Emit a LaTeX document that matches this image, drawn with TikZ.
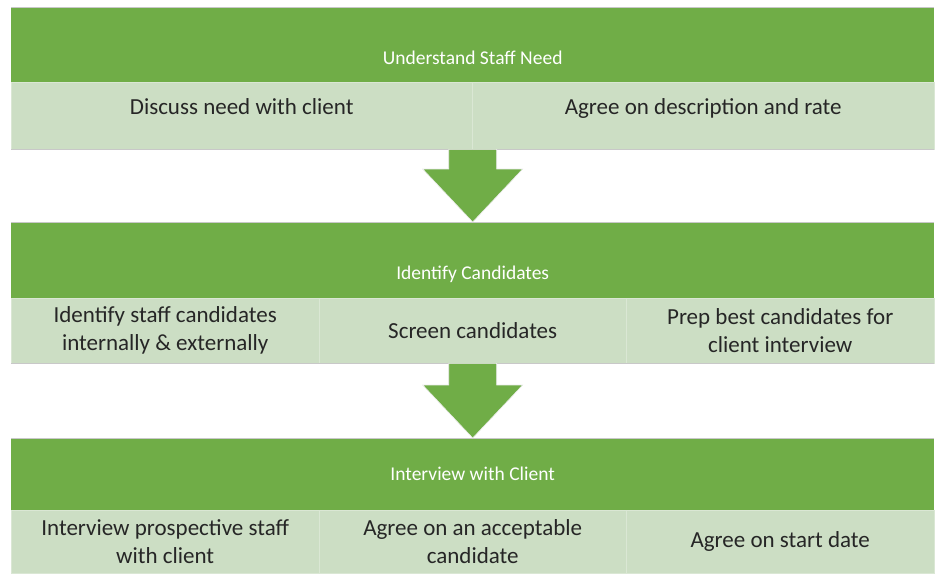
\documentclass[tikz,border=0pt]{standalone}
\usepackage{fontspec}
\setmainfont{Carlito}
\usetikzlibrary{calc}
\definecolor{hdrgreen}{RGB}{112,173,71}
\definecolor{cellgreen}{RGB}{204,222,196}
\definecolor{cellline}{RGB}{218,231,212}
\definecolor{rulegray}{RGB}{200,200,200}

\begin{document}
\begin{tikzpicture}[x=1pt,y=-1pt,
    hdr/.style={rectangle,fill=hdrgreen,text=white,font=\fontsize{19.5}{23}\selectfont,
      minimum width=923pt,minimum height=#1,inner sep=0pt,anchor=north west},
    lowtitle/.style={text height=39pt,text depth=0pt},
    cell/.style={rectangle,fill=cellgreen,draw=cellline,text=black!85,
      font=\fontsize{23}{28}\selectfont,align=center,inner sep=0pt,anchor=north west},
    raised/.style={text height=17pt,text depth=19pt},
    rule/.style={draw=rulegray,line width=0.8pt},
    arrowbox/.style={fill=hdrgreen,draw=white!85!gray,line width=0.6pt}]
  \useasboundingbox (0,0) rectangle (937,573);

  % step 1
  \node[hdr=75pt,lowtitle] (h1) at (11,7) {Understand Staff Need};
  \node[cell,minimum width=461pt,minimum height=67pt,raised] (c11) at (11,82) {Discuss need with client};
  \node[cell,minimum width=462pt,minimum height=67pt,raised] (c12) at (472,82) {Agree on description and rate};

  % step 2
  \node[hdr=76pt,lowtitle] (h2) at (11,222) {Identify Candidates};
  \node[cell,minimum width=308pt,minimum height=65pt] (c21) at (11,298) {Identify staff candidates\\internally \& externally};
  \node[cell,minimum width=307pt,minimum height=65pt] (c22) at (319,298) {Screen candidates};
  \node[cell,minimum width=308pt,minimum height=65pt] (c23) at (626,298) {Prep best candidates for\\client interview};

  % step 3
  \node[hdr=72pt] (h3) at (11,438) {Interview with Client};
  \node[cell,minimum width=308pt,minimum height=63pt] (c31) at (11,510) {Interview prospective staff\\with client};
  \node[cell,minimum width=307pt,minimum height=63pt] (c32) at (319,510) {Agree on an acceptable\\candidate};
  \node[cell,minimum width=308pt,minimum height=63pt] (c33) at (626,510) {Agree on start date};

  % thin edges
  \foreach \n in {h1,h2,h3}
    \draw[rule] (\n.north west) -- (\n.north east);
  \draw[rule] (c11.south west) -- (c12.south east);
  \draw[rule] (c21.south west) -- (c23.south east);

  % block arrows between steps
  \foreach \a/\b in {c11/h2,c21/h3}
    \path[arrowbox] ($(\b.north |- \a.south)+(-24,0)$) -- ($(\b.north)+(-24,-53)$)
      -- ($(\b.north)+(-50,-53)$) -- (\b.north) -- ($(\b.north)+(50,-53)$)
      -- ($(\b.north)+(24,-53)$) -- ($(\b.north |- \a.south)+(24,0)$) -- cycle;
\end{tikzpicture}
\end{document}
